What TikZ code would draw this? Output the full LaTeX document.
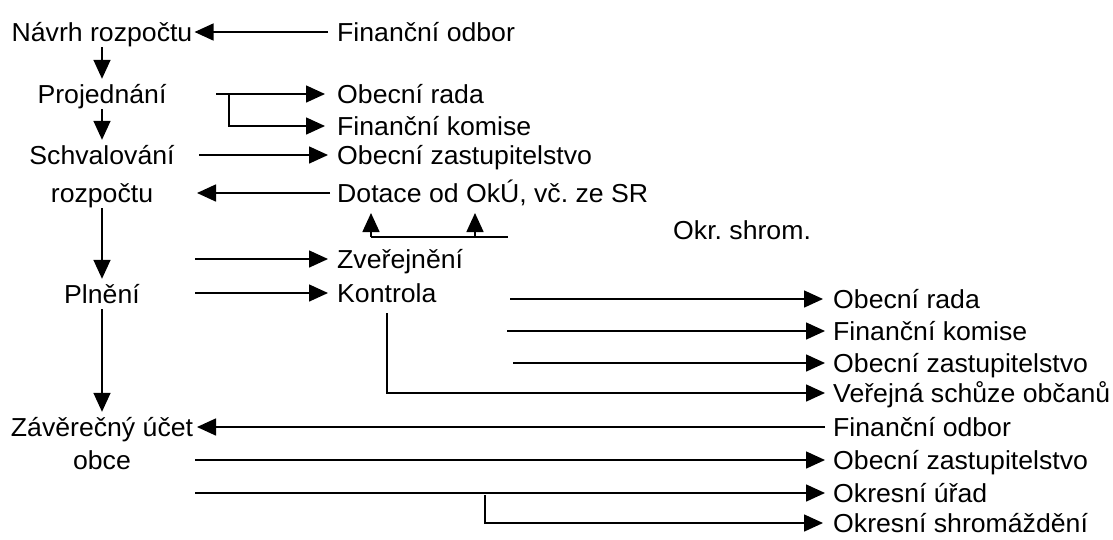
\documentclass[tikz,border=0pt]{standalone}
\usepackage{fontspec}
\setmainfont{Liberation Sans}[FakeStretch=1.025]
\usetikzlibrary{arrows.meta}
\frenchspacing
\begin{document}
\begin{tikzpicture}[x=1pt,y=-1pt,
  lbl/.style={inner xsep=0pt, inner ysep=4.5pt, text height=20pt, text depth=1pt,
              font=\fontsize{26}{30}\selectfont},
  rlbl/.style={lbl, anchor=west},
  link/.style={line width=1.6pt},
  flow/.style={link, -{Triangle[length=19pt,width=17pt]}}]

\useasboundingbox (0,0) rectangle (1113,539);
\fill[white] (0,0) rectangle (1113,539);

% main sequence of the budget process
\node[lbl] (navrh)  at (102,32)  {Návrh rozpočtu};
\node[lbl] (proj)   at (102,94)  {Projednání};
\node[lbl] (schv)   at (102,155) {Schvalování};
\node[lbl] (rozp)   at (102,193) {rozpočtu};
\node[lbl] (plneni) at (102,294) {Plnění};
\node[lbl] (zaver)  at (102,427) {Závěrečný účet};
\node[lbl] (obce)   at (102,460) {obce};

% participants, middle column
\node[rlbl] (fo1) at (337,32)  {Finanční odbor};
\node[rlbl] (or1) at (337,94)  {Obecní rada};
\node[rlbl] (fk1) at (337,126) {Finanční komise};
\node[rlbl] (oz1) at (337,155) {Obecní zastupitelstvo};
\node[rlbl] (dot) at (337,193) {Dotace od OkÚ, vč. ze SR};
\node[rlbl] (zve) at (337,259) {Zveřejnění};
\node[rlbl] (kon) at (337,293) {Kontrola};
\node[rlbl] (okr) at (673,230) {Okr. shrom.};

% participants, right column
\node[rlbl] (or2) at (833,299) {Obecní rada};
\node[rlbl] (fk2) at (833,331) {Finanční komise};
\node[rlbl] (oz2) at (833,363) {Obecní zastupitelstvo};
\node[rlbl] (ver) at (833,393) {Veřejná schůze občanů};
\node[rlbl] (fo2) at (833,427) {Finanční odbor};
\node[rlbl] (oz3) at (833,460) {Obecní zastupitelstvo};
\node[rlbl] (ou)  at (833,493) {Okresní úřad};
\node[rlbl] (osh) at (833,523) {Okresní shromáždění};

% free ends of the connectors
\coordinate (pj0) at (216,94);
\coordinate (pj1) at (229,94);
\coordinate (sv0) at (199,155);
\coordinate (rzt) at (197,193);
\coordinate (ua)  at (371,237);
\coordinate (ub)  at (475,237);
\coordinate (uc)  at (508,237);
\coordinate (uat) at (371,213);
\coordinate (ubt) at (475,213);
\coordinate (zv0) at (195,259);
\coordinate (kn0) at (195,293);
\coordinate (kb1) at (510,299);
\coordinate (kb2) at (507,331);
\coordinate (kb3) at (513,363);
\coordinate (ks)  at (387,313);
\coordinate (zat) at (197,427);
\coordinate (ob0) at (195,460);
\coordinate (ou0) at (195,493);
\coordinate (os0) at (485,495);

% vertical flow
\draw[flow] (navrh) -- (proj);
\draw[flow] (proj) -- (schv);
\draw[flow] (rozp) -- (plneni);
\draw[flow] (plneni) -- (zaver);

% proposal
\draw[flow] ([xshift=-9pt]fo1.west) -- ([xshift=2pt]navrh.east);

% discussion
\draw[flow] (pj0) -- ([xshift=-12pt]or1.west);
\draw[flow] (pj1) |- ([xshift=-12pt]fk1.west);

% approval and subsidies
\draw[flow] (sv0) -- ([xshift=-9pt]oz1.west);
\draw[flow] ([xshift=-7pt]dot.west) -- (rzt);
\draw[link] (ua) -- (uc);
\draw[flow] (ua) -- (uat);
\draw[flow] (ub) -- (ubt);

% implementation
\draw[flow] (zv0) -- ([xshift=-9pt]zve.west);
\draw[flow] (kn0) -- ([xshift=-9pt]kon.west);
\draw[flow] (kb1) -- ([xshift=-10pt]or2.west);
\draw[flow] (kb2) -- ([xshift=-8pt]fk2.west);
\draw[flow] (kb3) -- ([xshift=-8pt]oz2.west);
\draw[flow] (ks) |- ([xshift=-8pt]ver.west);

% final account
\draw[flow] ([xshift=-8pt]fo2.west) -- (zat);
\draw[flow] (ob0) -- ([xshift=-8pt]oz3.west);
\draw[flow] (ou0) -- ([xshift=-8pt]ou.west);
\draw[flow] (os0) |- ([xshift=-10pt]osh.west);

\end{tikzpicture}
\end{document}
